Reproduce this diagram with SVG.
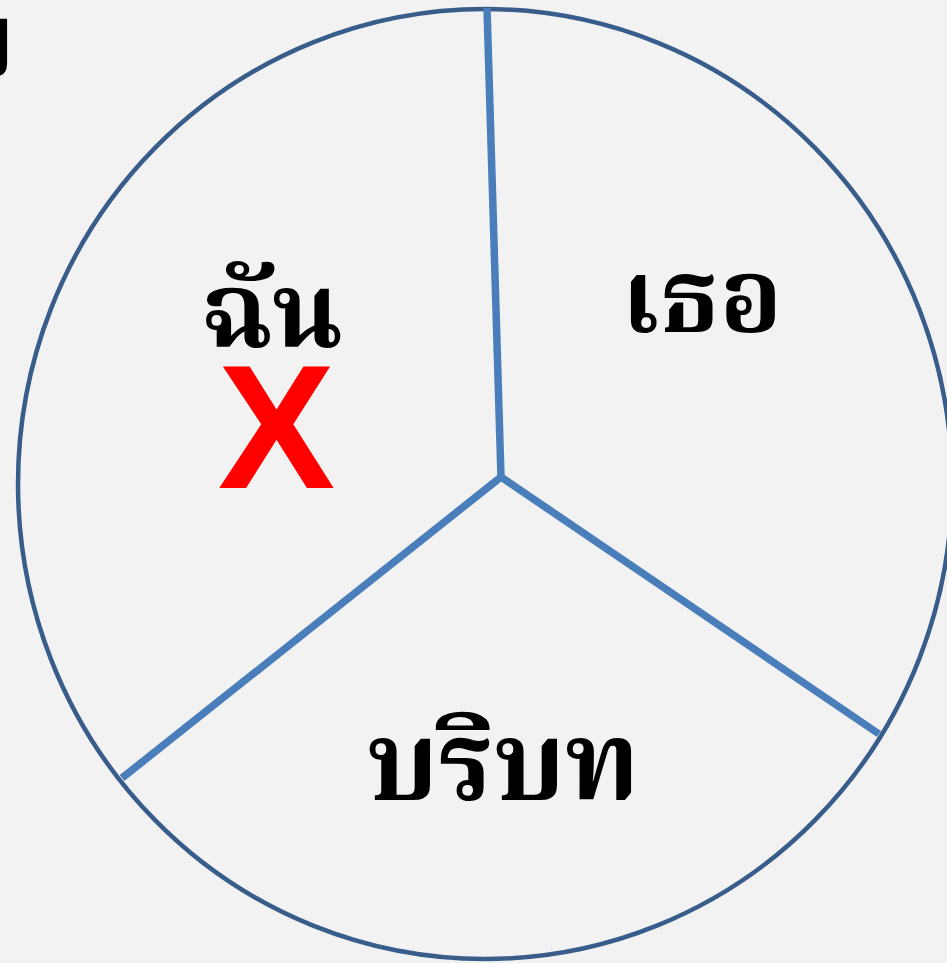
<svg xmlns="http://www.w3.org/2000/svg" width="947" height="963" viewBox="0 0 947 963">
<style>
.th{font-family:"Noto Serif Thai","Noto Sans Thai","Loma","Garuda","Tlwg Typo","DejaVu Sans",sans-serif;font-weight:bold;fill:#000;}
.spoke{stroke:#4a7ebb;stroke-width:7.5;fill:none;stroke-linecap:butt;}
</style>
<rect x="0" y="0" width="947" height="963" fill="#f2f2f2"/>
<g id="partial-text"><text class="th" x="15" y="77" font-size="105" text-anchor="end">บ</text></g>
<g id="circle"><ellipse cx="485" cy="484" rx="467" ry="475" fill="#f2f2f2" stroke="#385d8a" stroke-width="4.5"/></g>
<g id="connectors">
<line class="spoke" x1="487" y1="8" x2="501" y2="477"/>
<line class="spoke" x1="501" y1="477" x2="879" y2="734"/>
<line class="spoke" x1="501" y1="477" x2="122" y2="778"/>
</g>
<g id="node-chan"><text class="th" x="272" y="347" font-size="105" text-anchor="middle">ฉัน</text></g>
<g id="node-x"><text x="276.5" y="488" font-family="Liberation Sans,Arial,sans-serif" font-weight="bold" font-size="176" fill="#ff0000" text-anchor="middle">X</text></g>
<g id="node-thoe"><text class="th" x="702" y="332" font-size="103" text-anchor="middle">เธอ</text></g>
<g id="node-boribot"><text class="th" x="503" y="800" font-size="110" text-anchor="middle">บริบท</text></g>
</svg>
